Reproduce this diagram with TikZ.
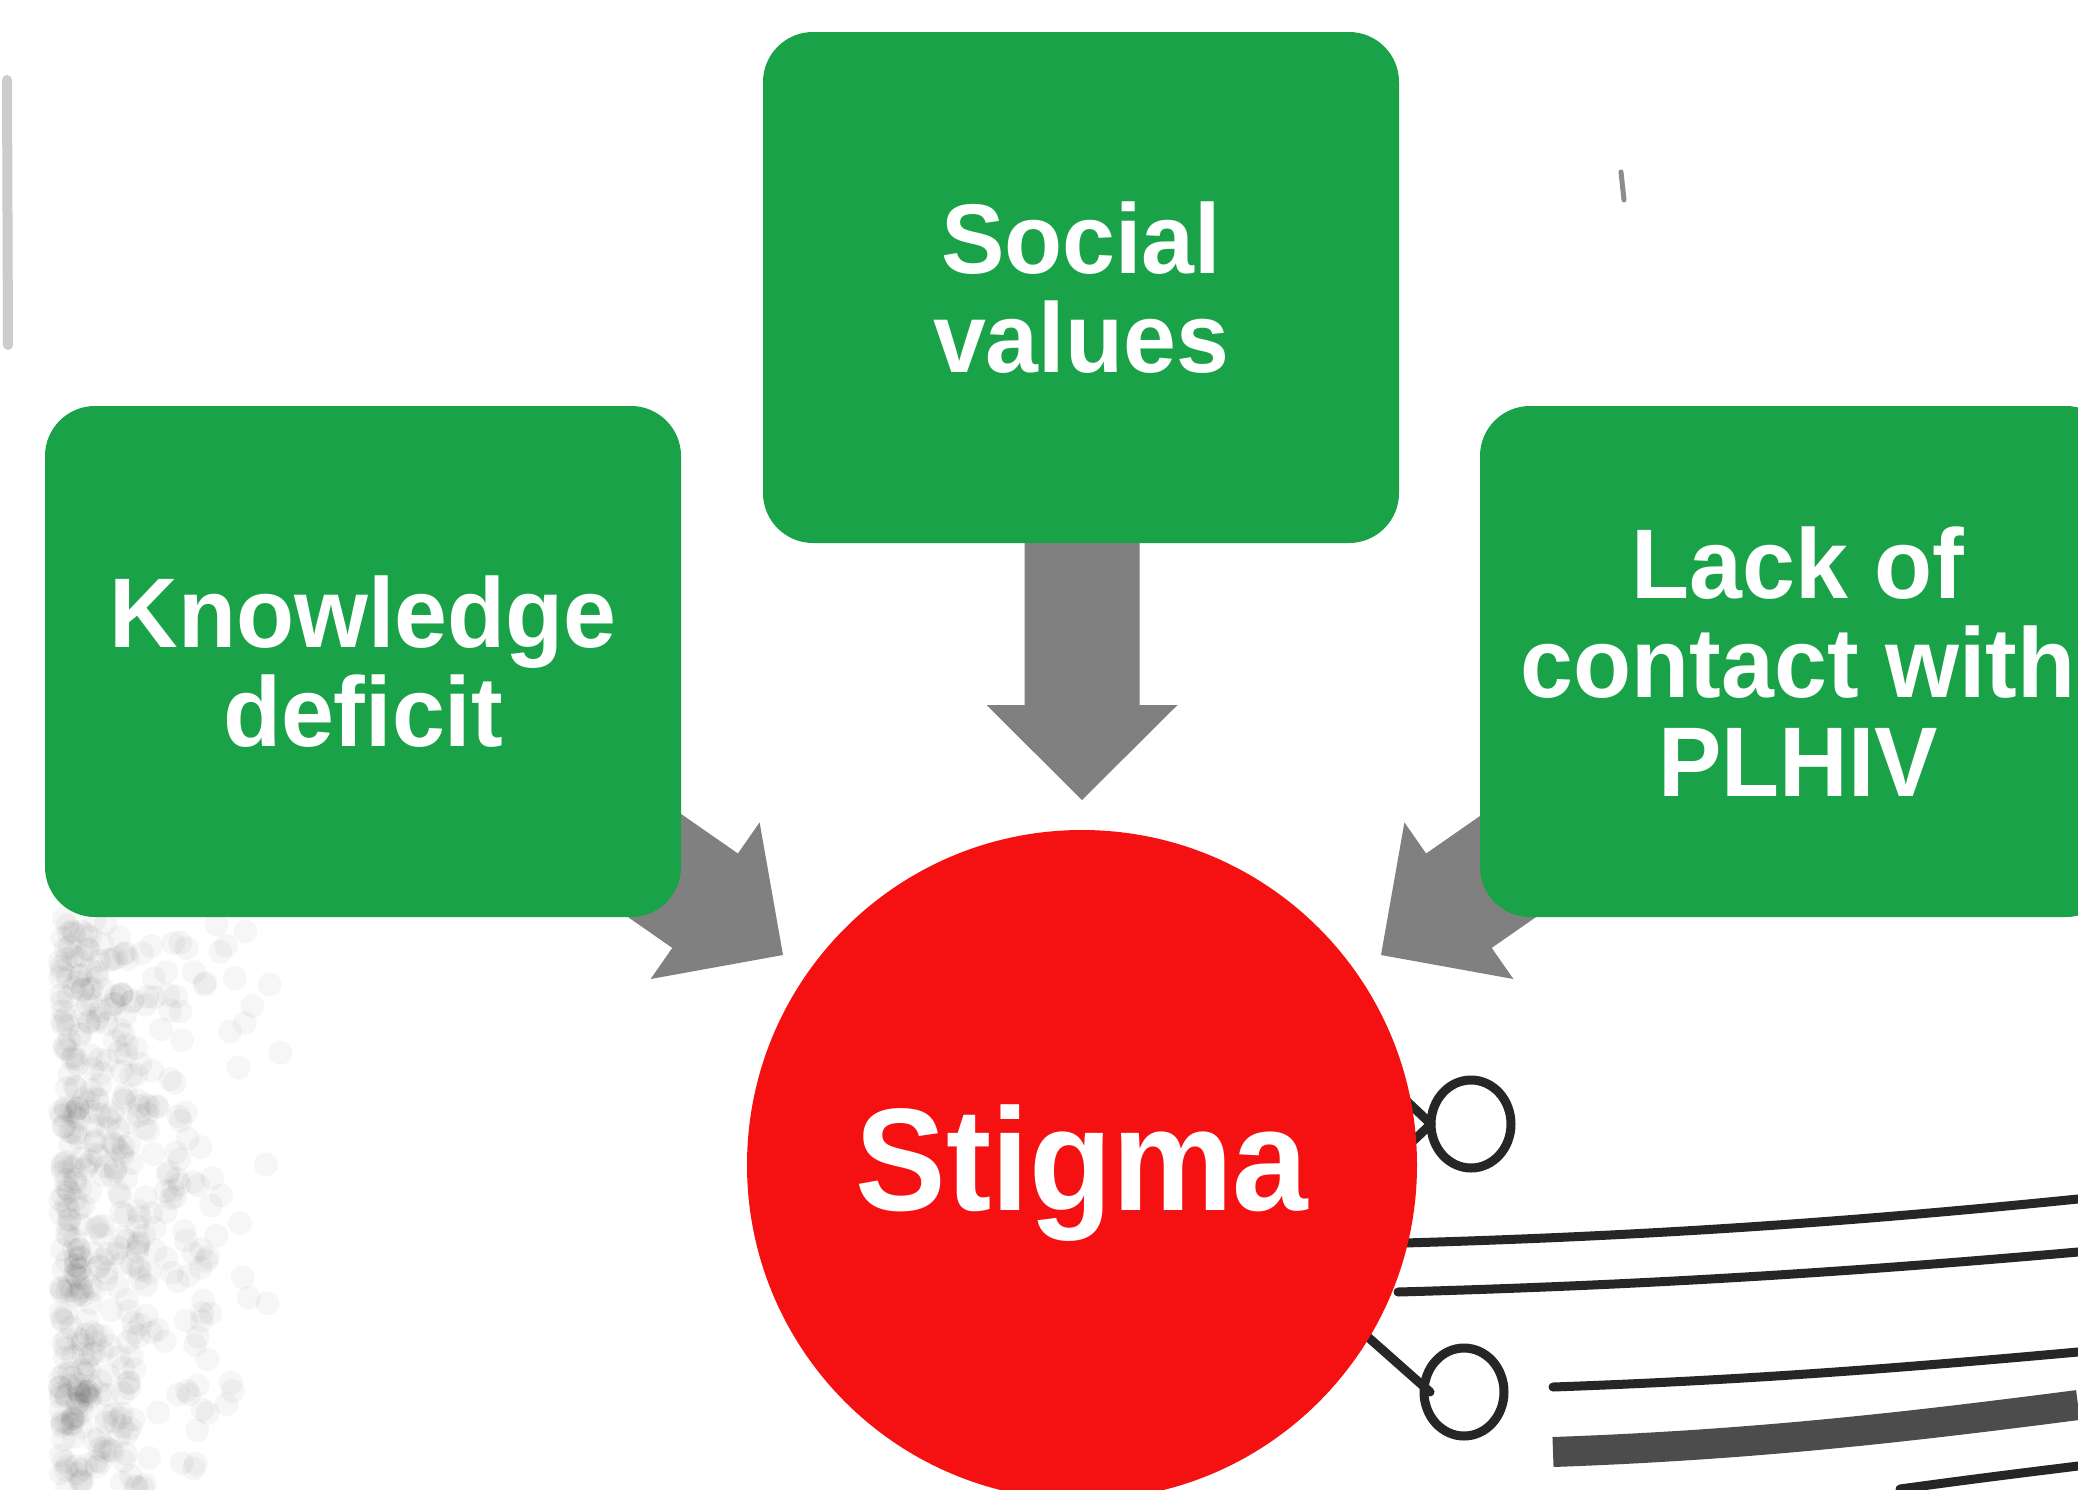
\documentclass[tikz,border=0pt]{standalone}
\usepackage{fontspec}
\setmainfont{Liberation Sans}
\newfontfamily\boxfont{Liberation Sans}[FakeStretch=0.96]
\newfontfamily\stigfont{Liberation Sans}[FakeStretch=0.93]
\usetikzlibrary{calc}
\definecolor{boxgreen}{RGB}{26,162,72}
\definecolor{stigred}{RGB}{245,17,17}
\definecolor{arrowgray}{RGB}{128,128,128}
\begin{document}
\begin{tikzpicture}[x=0.5pt,y=-0.5pt,
  box/.style={fill=boxgreen, rounded corners=25pt, minimum width=318pt, minimum height=255.5pt,
    inner sep=0pt, text=white, align=center, font=\boxfont\bfseries\fontsize{49.5}{49.5}\selectfont},
  stigmanode/.style={circle, fill=stigred, minimum size=335pt, inner sep=0pt, text=white,
    font=\stigfont\bfseries\fontsize{73}{73}\selectfont},
  fatarrow/.style={fill=arrowgray},
  scanline/.style={draw=black!85, line width=4.5pt, line cap=round},
  smudge/.style={draw=black!40, line width=3pt, line cap=round}]
\useasboundingbox (0,0) rectangle (2078,1489);
\clip (0,0) rectangle (2078,1489);
\fill[white] (0,0) rectangle (2078,1489);

% scan artefacts in the background
\draw[smudge, draw=black!20, line width=5pt] (7,80) -- (8,345);
\draw[smudge, draw=black!45, line width=2.5pt] (1621,172) -- (1624,200);
\pgfmathsetseed{7}
\foreach \i in {1,...,500}{
  \pgfmathsetmacro\xx{60+230*rnd*rnd}
  \pgfmathsetmacro\yy{915+574*rnd}
  \fill[black, opacity=0.035] (\xx,\yy) circle (6pt);
}
\draw[scanline] (1471,1124) ellipse [x radius=40, y radius=44];
\draw[scanline] (1431,1124) -- (1395,1090);
\draw[scanline] (1431,1124) -- (1395,1158);
\draw[scanline] (1404,1243) .. controls (1650,1236) and (1850,1222) .. (2078,1199);
\draw[scanline] (1398,1292) .. controls (1650,1285) and (1850,1272) .. (2078,1252);
\draw[scanline] (1464,1392) ellipse [x radius=40, y radius=44];
\draw[scanline] (1360,1330) -- (1430,1392);
\draw[scanline] (1553,1387) .. controls (1750,1380) and (1900,1368) .. (2078,1352);
\draw[draw=black!70, line width=15pt] (1553,1452) .. controls (1750,1445) and (1900,1428) .. (2078,1405);
\draw[scanline] (1900,1489) .. controls (1980,1478) and (2030,1472) .. (2078,1466);

% block arrows
\coordinate (tipD) at (1082,800);
\coordinate (tipL) at (783,955);
\coordinate (tipR) at (1381,955);
\fill[fatarrow] (tipD) -- ++(95.5,-95) -- ++(-38,0) -- ++(0,-205) -- ++(-115,0) -- ++(0,205) -- ++(-38,0) -- cycle;
\fill[fatarrow] (tipL) -- ($(tipL)+(-23.4,-132.6)$) -- ($(tipL)+(-45.1,-101.5)$) -- ($(tipL)+(-213.2,-218.5)$)
  -- ($(tipL)+(-278.8,-124.1)$) -- ($(tipL)+(-110.7,-7.1)$) -- ($(tipL)+(-132.4,24)$) -- cycle;
\fill[fatarrow] (tipR) -- ($(tipR)+(23.4,-132.6)$) -- ($(tipR)+(45.1,-101.5)$) -- ($(tipR)+(213.2,-218.5)$)
  -- ($(tipR)+(278.8,-124.1)$) -- ($(tipR)+(110.7,-7.1)$) -- ($(tipR)+(132.4,24)$) -- cycle;

% boxes and circle
\node[box] (social) at (1081,287.5) {Social\\values};
\node[box] (know) at (363,661.5) {Knowledge\\deficit};
\node[box] (lack) at (1798,661.5) {Lack of\\contact with\\PLHIV};
\node[stigmanode] (stigma) at (1082,1165) {\raisebox{-22.5pt}[0pt][0pt]{Stigma}};
\end{tikzpicture}
\end{document}
